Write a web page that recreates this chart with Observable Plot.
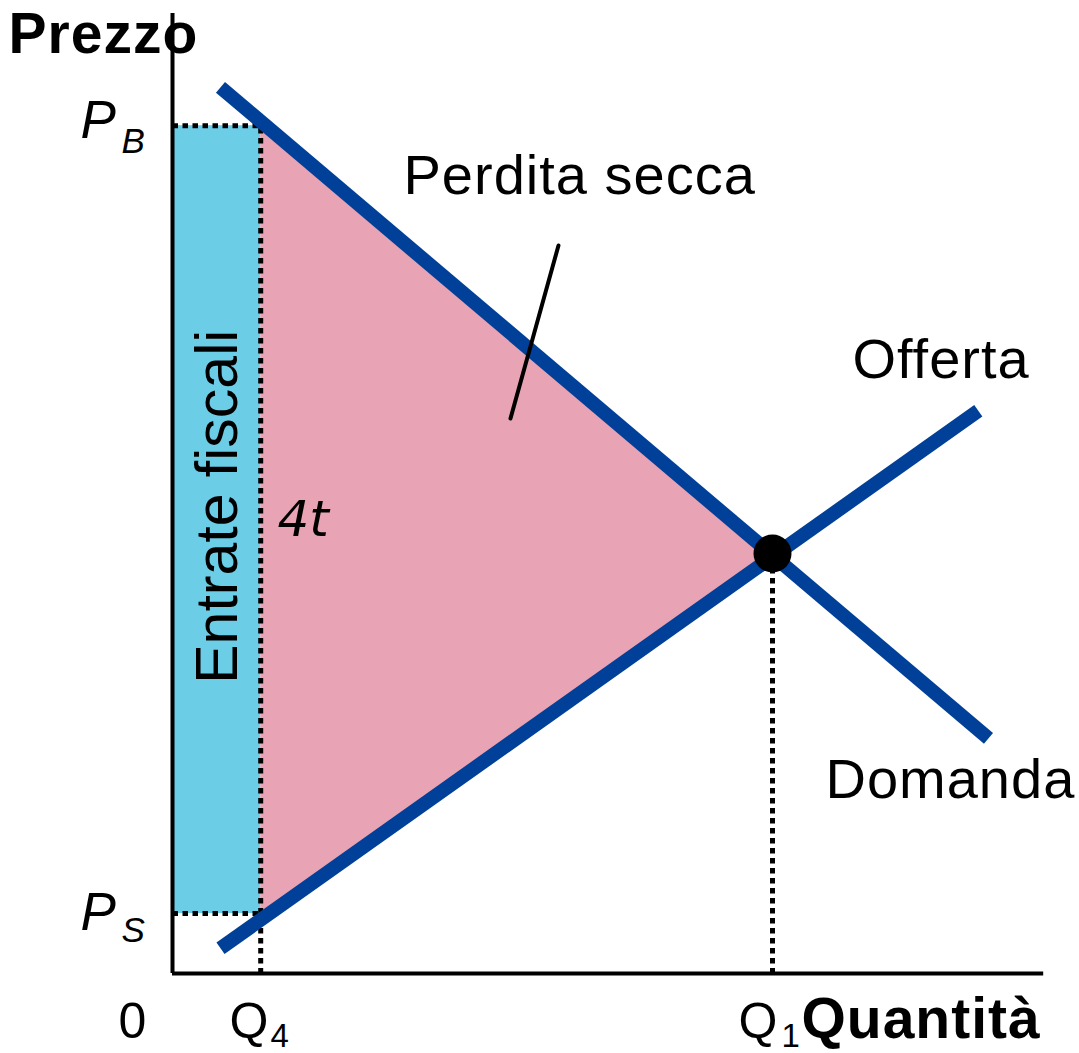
<!DOCTYPE html>
<html>
<head>
<meta charset="utf-8">
<script src="https://cdn.jsdelivr.net/npm/d3@7"></script>
<script src="https://cdn.jsdelivr.net/npm/@observablehq/plot@0.6"></script>
<style>
  html, body { margin: 0; padding: 0; background: #fff; }
  .wide text { letter-spacing: 1px; }
</style>
</head>
<body>
<div id="chart"></div>
<script>
// Key market values (quantity, price units)
const Q4 = 1.47, Q1 = 10;
const PB = 14.13, PS = 1.0, PE = 7.0;

const demand = [{q: 0.8, p: 14.77}, {q: 13.6, p: 3.92}];
const supply = [{q: 0.8, p: 0.42}, {q: 13.43, p: 9.38}];
const taxRevenue = [{q1: 0, q2: Q4, p1: PS, p2: PB}];
const deadweight = [{q: Q4, lo: PS, hi: PB}, {q: Q1, lo: PE, hi: PE}];
const equilibrium = [{q: Q1, p: PE}];
const leader = [{q: 6.433, p: 12.133}, {q: 5.633, p: 9.25}];
const guides = [
  {g: "pb", q1: 0, p1: PB, q2: Q4, p2: PB},
  {g: "ps", q1: 0, p1: PS, q2: Q4, p2: PS},
  {g: "q4", q1: Q4, p1: 0, q2: Q4, p2: PB},
  {g: "q1", q1: Q1, p1: 0, q2: Q1, p2: PE}
];
const axisTopP = 16.0, axisEndQ = 14.52;

// Labels (text, anchor position in data units)
const regularLabels = [
  {t: "Perdita secca", q: 3.85, p: 13.0},
  {t: "Offerta", q: 11.333, p: 9.933},
  {t: "Domanda", q: 10.883, p: 2.933}
];
const axisLabels = [
  {t: "0", q: -0.9, p: -1.067},
  {t: "Q", q: 0.95, p: -1.067},
  {t: "Q", q: 9.433, p: -1.067}
];
const subLabels = [
  {t: "4", q: 1.633, p: -1.233},
  {t: "1", q: 10.15, p: -1.233}
];
const italicLabels = [
  {t: "P", q: -1.533, p: 13.917},
  {t: "P", q: -1.533, p: 0.717}
];
const italicSubLabels = [
  {t: "B", q: -0.85, p: 13.667},
  {t: "S", q: -0.85, p: 0.517}
];
const boldLabels = [
  {t: "Prezzo", q: -2.733, p: 15.35},
  {t: "Quantità", q: 10.483, p: -1.067}
];
const rotatedLabel = [{t: "Entrate fiscali", q: 1.083, p: 7.78}];
const taxLabel = [{t: "4t", q: 1.75, p: 7.3}];

const font = "Liberation Sans, Arial, sans-serif";
const blue = "#004098";

const chart = Plot.plot({
  width: 1079,
  height: 1053,
  margin: 0,
  x: {domain: [-172 / 60, (1079 - 172) / 60], axis: null},
  y: {domain: [(973 - 1053) / 60, 973 / 60], axis: null},
  style: {fontFamily: font, background: "#fff"},
  marks: [
    Plot.rect(taxRevenue, {x1: "q1", x2: "q2", y1: "p1", y2: "p2", fill: "#6ccde6"}),
    Plot.areaY(deadweight, {x: "q", y1: "lo", y2: "hi", fill: "#e8a3b4"}),
    // dotted guide lines
    Plot.link(guides, {x1: "q1", y1: "p1", x2: "q2", y2: "p2", stroke: "#000", strokeWidth: 5, strokeDasharray: "5.5,4.5", strokeLinecap: "butt"}),
    // axes
    Plot.ruleX([0], {y1: 0, y2: axisTopP, stroke: "#000", strokeWidth: 4}),
    Plot.ruleY([0], {x1: 0, x2: axisEndQ, stroke: "#000", strokeWidth: 4}),
    // curves
    Plot.line(demand, {x: "q", y: "p", stroke: blue, strokeWidth: 14, strokeLinecap: "butt"}),
    Plot.line(supply, {x: "q", y: "p", stroke: blue, strokeWidth: 14, strokeLinecap: "butt"}),
    Plot.dot(equilibrium, {x: "q", y: "p", r: 19, fill: "#000"}),
    Plot.line(leader, {x: "q", y: "p", stroke: "#000", strokeWidth: 4}),
    // text
    Plot.text(regularLabels, {x: "q", y: "p", text: "t", textAnchor: "start", lineAnchor: "bottom", fontSize: 56, fill: "#000", className: "wide"}),
    Plot.text(axisLabels, {x: "q", y: "p", text: "t", textAnchor: "start", lineAnchor: "bottom", fontSize: 50, fill: "#000"}),
    Plot.text(subLabels, {x: "q", y: "p", text: "t", textAnchor: "start", lineAnchor: "bottom", fontSize: 33, fill: "#000"}),
    Plot.text(italicLabels, {x: "q", y: "p", text: "t", textAnchor: "start", lineAnchor: "bottom", fontSize: 53, fontStyle: "italic", fill: "#000"}),
    Plot.text(italicSubLabels, {x: "q", y: "p", text: "t", textAnchor: "start", lineAnchor: "bottom", fontSize: 35, fontStyle: "italic", fill: "#000"}),
    Plot.text(boldLabels, {x: "q", y: "p", text: "t", textAnchor: "start", lineAnchor: "bottom", fontSize: 57, fontWeight: "bold", fill: "#000", className: "wide"}),
    Plot.text(rotatedLabel, {x: "q", y: "p", text: "t", textAnchor: "middle", lineAnchor: "bottom", rotate: -90, fontSize: 59, fill: "#000"}),
    Plot.text(taxLabel, {x: "q", y: "p", text: "t", textAnchor: "start", lineAnchor: "bottom", fontSize: 50, fontStyle: "italic", fontFamily: "DejaVu Sans", fill: "#000"})
  ]
});
document.getElementById("chart").appendChild(chart);
</script>
</body>
</html>
